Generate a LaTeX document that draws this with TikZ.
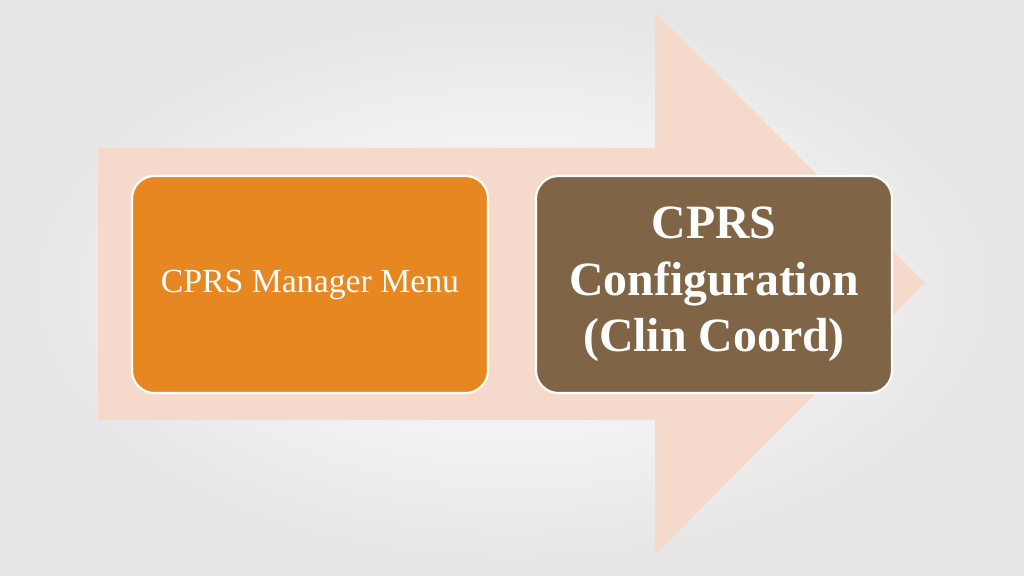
\documentclass[tikz,border=0pt]{standalone}
\usepackage{fontspec}
\setmainfont{Liberation Serif}
\begin{document}
\begin{tikzpicture}[x=0.025cm,y=-0.025cm,
 box/.style={draw=white,line width=1.5pt,rounded corners=16pt,text=white,align=center,minimum width=356*0.025cm,minimum height=217*0.025cm}]
\useasboundingbox (0,0) rectangle (1024,576);
\shade[inner color=white,outer color=black!10] (0,0) rectangle (1024,576);
\fill[fill={rgb,255:red,245;green,218;blue,204}] (98,148) -- (655,148) -- (655,12) -- (925,283) -- (655,555) -- (655,420) -- (98,420) -- cycle;
\node[box,fill={rgb,255:red,230;green,135;blue,34},font=\fontsize{24}{28}\selectfont] (a) at (310,284.5) {CPRS Manager Menu};
\node[box,fill={rgb,255:red,128;green,100;blue,70},font=\fontsize{34}{40}\selectfont\bfseries] (b) at (714,284.5) {CPRS\\ Configuration\\ (Clin Coord)};
\end{tikzpicture}
\end{document}
